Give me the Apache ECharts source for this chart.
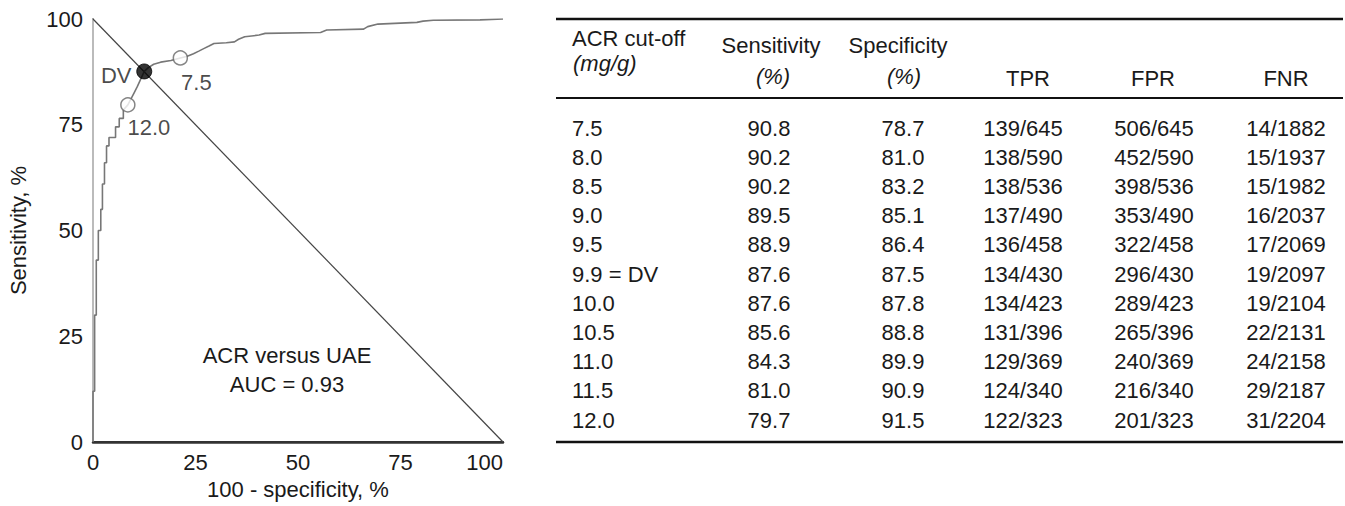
<!DOCTYPE html>
<html>
<head>
<meta charset="utf-8">
<script src="https://cdn.jsdelivr.net/npm/echarts@6/dist/echarts.min.js"></script>
<style>
html,body{margin:0;padding:0;background:#fff;}
#c{width:1345px;height:506px;}
</style>
</head>
<body>
<div id="c"></div>
<script>
// ---- ROC curve data (100 - specificity, sensitivity) ----
const rocX = [0,0,0.4,0.4,0.8,0.8,1.3,1.3,1.9,1.9,2.3,2.3,2.8,2.8,3.3,3.3,3.9,3.9,5.5,5.5,6.4,6.4,7.4,7.4,8.5,9.2,10,10.8,11.5,12.5,13.5,14.8,16.5,19,21.3,23,24.5,25.8,27,28.3,29.5,32.5,34.5,35.5,37,40.5,42,55.5,57,66,67,69.5,79,80.5,83,94.4,100];
const rocY = [0,12,12,30,30,43,43,50,50,55,55,61,61,66,66,70,70,72,72,74.5,74.5,76.5,76.5,78.5,79.7,81,82.5,84,85.5,87.6,88.5,89.3,89.8,90.2,90.8,91.2,91.8,92.4,93,93.6,94.2,94.4,94.6,95.2,95.8,96.2,96.6,96.8,97.4,97.6,98.2,98.8,99.2,99.5,99.7,99.8,100];
const diagX = [0,100];
const diagY = [100,0];
const xTicks = [0,25,50,75,100];
const yTicks = [0,25,50,75,100];

// ---- Table data ----
const cutoffs = ['7.5','8.0','8.5','9.0','9.5','9.9 = DV','10.0','10.5','11.0','11.5','12.0'];
const sensitivity = [90.8,90.2,90.2,89.5,88.9,87.6,87.6,85.6,84.3,81.0,79.7];
const specificity = [78.7,81.0,83.2,85.1,86.4,87.5,87.8,88.8,89.9,90.9,91.5];
const tpr = ['139/645','138/590','138/536','137/490','136/458','134/430','134/423','131/396','129/369','124/340','122/323'];
const fpr = ['506/645','452/590','398/536','353/490','322/458','296/430','289/423','265/396','240/369','216/340','201/323'];
const fnr = ['14/1882','15/1937','15/1982','16/2037','17/2069','19/2097','19/2104','22/2131','24/2158','29/2187','31/2204'];

// highlighted cut-offs on the curve
const markIdx = [0, 5, 10];
const markLabels = ['7.5', 'DV', '12.0'];

const FONT = 'Liberation Sans, Arial, Helvetica, sans-serif';
const FS = 22;
const TXT = '#1a1a1a';

const chart = echarts.init(document.getElementById('c'), null, {renderer: 'svg'});

function pts(xs, ys){ return xs.map((x,i)=>[x, ys[i]]); }

const labelOffsets = [[16,25],[-28,4],[21,23]];
const markerData = markIdx.map((idx, k) => ({
  value: [+(100 - specificity[idx]).toFixed(1), sensitivity[idx]],
  symbolSize: k === 1 ? 15 : 14,
  itemStyle: k === 1 ? {color:'#000', borderColor:'#000', borderWidth:1}
                     : {color:'#fff', borderColor:'#666', borderWidth:1.5},
  label: {show:true, formatter: markLabels[k], position:'inside', offset: labelOffsets[k],
          color: TXT, fontSize: FS, fontFamily: FONT}
}));

// ---- Table graphics ----
const graphics = [];
function txt(x, y, s, align, italic){
  graphics.push({type:'text', x:x, y:y, silent:true,
    style:{text:s, x:0, y:0, align:align, verticalAlign:'middle',
      font:(italic?'italic ':'') + FS + 'px ' + FONT, fill:TXT}});
}
function hline(y, w){
  graphics.push({type:'line', silent:true, shape:{x1:556, y1:y, x2:1343, y2:y},
    style:{stroke:'#111', lineWidth:w}});
}
hline(19, 2.5);
hline(98, 2);
hline(442, 2.5);
// header
txt(572, 38, 'ACR cut-off', 'left');
txt(573, 63, '(mg/g)', 'left', true);
txt(771, 45, 'Sensitivity', 'center');
txt(773, 76, '(%)', 'center', true);
txt(898, 45, 'Specificity', 'center');
txt(904, 76, '(%)', 'center', true);
txt(1028, 78, 'TPR', 'center');
txt(1153, 78, 'FPR', 'center');
txt(1286, 78, 'FNR', 'center');
// rows
const row0 = 128, rowStep = 29.2;
cutoffs.forEach((c, i) => {
  const y = row0 + i * rowStep;
  txt(572, y, c, 'left');
  txt(769, y, sensitivity[i].toFixed(1), 'center');
  txt(903, y, specificity[i].toFixed(1), 'center');
  txt(1023, y, tpr[i], 'center');
  txt(1154, y, fpr[i], 'center');
  txt(1286, y, fnr[i], 'center');
});
// annotation inside plot
graphics.push({type:'text', x:287, y:355, silent:true,
  style:{text:'ACR versus UAE', align:'center', verticalAlign:'middle', font:FS + 'px ' + FONT, fill:TXT}});
graphics.push({type:'text', x:287, y:384, silent:true,
  style:{text:'AUC = 0.93', align:'center', verticalAlign:'middle', font:FS + 'px ' + FONT, fill:TXT}});

const axisLabel = {color:TXT, fontSize:FS, fontFamily:FONT};

chart.setOption({
  animation: false,
  backgroundColor: '#fff',
  grid: {left:93, top:19, width:410, height:423},
  xAxis: [
    {type:'value', min:0, max:100, interval:25, position:'bottom',
     axisLine:{show:true, onZero:false, lineStyle:{color:'#333', width:2}},
     axisTick:{show:false}, splitLine:{show:false},
     axisLabel:Object.assign({margin:9, alignMaxLabel:'right', formatter:v=>xTicks.includes(v)?String(v):''}, axisLabel),
     name:'100 - specificity, %', nameLocation:'middle', nameGap:36,
     nameTextStyle:{color:TXT, fontSize:FS, fontFamily:FONT}},
    {type:'value', min:0, max:100, position:'top',
     axisLine:{show:true, lineStyle:{color:'#333', width:2.5}},
     axisTick:{show:false}, axisLabel:{show:false}, splitLine:{show:false}}
  ],
  yAxis: [
    {type:'value', min:0, max:100, interval:25, position:'left',
     axisLine:{show:true, onZero:false, lineStyle:{color:'#333', width:2}},
     axisTick:{show:false}, splitLine:{show:false},
     axisLabel:Object.assign({margin:10, formatter:v=>yTicks.includes(v)?String(v):''}, axisLabel),
     name:'Sensitivity, %', nameLocation:'middle', nameGap:64,
     nameTextStyle:{color:TXT, fontSize:FS, fontFamily:FONT}},
    {type:'value', min:0, max:100, position:'right',
     axisLine:{show:true, lineStyle:{color:'#bbb', width:2}},
     axisTick:{show:false}, axisLabel:{show:false}, splitLine:{show:false}}
  ],
  series: [
    {type:'line', data: pts(diagX, diagY), symbol:'none', silent:true,
     lineStyle:{color:'#444', width:1.2}, z:2},
    {type:'line', data: pts(rocX, rocY), symbol:'none', silent:true,
     lineStyle:{color:'#777', width:1.6}, z:3},
    {type:'scatter', data: markerData, z:5}
  ],
  graphic: graphics
});
</script>
</body>
</html>
